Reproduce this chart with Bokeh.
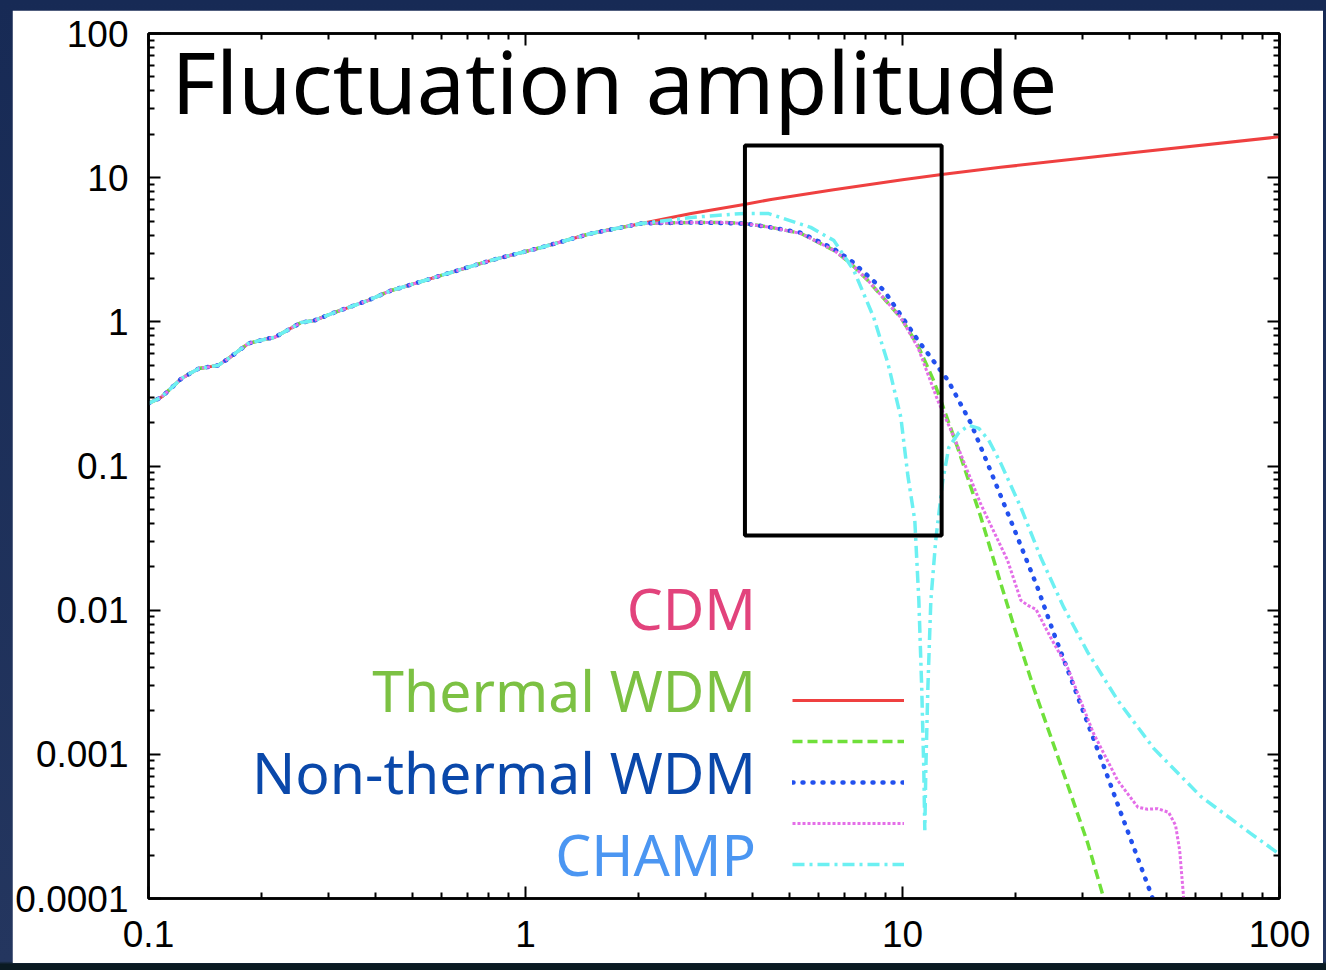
from bokeh.plotting import figure
from bokeh.models import (LogAxis, FixedTicker, CustomJSTickFormatter, Label,
                          BoxAnnotation, Legend, LegendItem)
from bokeh.layouts import column
from bokeh.embed import file_html
from bokeh.resources import INLINE

# ---------------- data ----------------
# wavenumber k (x) and fluctuation amplitude (y); low-k part identical for all models
k_shared = [0.100, 0.108, 0.1224, 0.136, 0.153, 0.163, 0.184, 0.208, 0.216, 0.254,
            0.275, 0.311, 0.383, 0.44, 0.469, 0.598, 0.81, 1.10, 1.49, 2.03]
p_shared = [0.272, 0.299, 0.405, 0.475, 0.499, 0.557, 0.708, 0.767, 0.78, 0.99,
            1.02, 1.16, 1.41, 1.65, 1.73, 2.10, 2.67, 3.28, 4.10, 4.81]

k_cdm = [2.75, 3.80, 4.48, 6.5, 10.0, 12.7, 18.2, 40.0, 100.0]
p_cdm = [5.65, 6.52, 7.06, 8.22, 9.68, 10.52, 11.8, 14.83, 19.2]

k_twdm = [2.75, 3.37, 3.80, 4.48, 5.38, 6.58, 7.29, 8.09, 9.90, 11.0, 12.1, 14.0, 16.1,
          18.2, 19.7, 22.3, 26.3, 31.0, 34.2]
p_twdm = [4.89, 4.89, 4.81, 4.52, 4.10, 3.13, 2.54, 1.94, 1.07, 0.68, 0.39, 0.1346, 0.045,
          0.0155, 0.0079, 0.00287, 0.00084, 0.000242, 0.0001]

k_ntwdm = [2.75, 3.80, 4.48, 5.38, 6.58, 7.29, 8.93, 11.0, 13.2, 15.2, 17.1, 19.7,
           22.8, 25.2, 27.9, 31.0, 34.2, 37.9, 42.1, 46.1]
p_ntwdm = [4.89, 4.81, 4.52, 4.15, 3.2, 2.67, 1.65, 0.743, 0.393, 0.197, 0.0933, 0.0375,
           0.0144, 0.0069, 0.00342, 0.00164, 0.000826, 0.000396, 0.00019, 0.0001]

k_mix = [2.75, 3.37, 3.80, 4.48, 5.38, 6.58, 7.29, 8.09, 9.90, 11.0, 12.4, 13.7, 16.1, 19.0,
         20.6, 21.5, 22.6, 24.7, 27.4, 32.1, 37.2, 42.1, 44.7, 47.5, 50.8, 53.0, 54.35, 55.7]
p_mix = [4.89, 4.89, 4.81, 4.52, 4.10, 3.13, 2.54, 1.94, 1.07, 0.66, 0.285, 0.158, 0.055, 0.0221,
         0.0117, 0.0108, 0.01014, 0.00648, 0.0040, 0.0014, 0.00066, 0.00043, 0.000416,
         0.00042, 0.000396, 0.000322, 0.000216, 0.0001]

k_champ = [2.75, 3.80, 4.40, 5.71, 6.58, 7.43, 8.39, 9.15, 9.90, 10.33, 10.78, 11.05,
           11.25, 11.39, 11.46, 11.53, 11.67, 11.89, 12.25, 12.79, 13.27, 14.11, 15.00,
           15.94, 16.94, 18.23, 20.60, 23.27, 26.78, 31.0, 37.23, 46.38, 61.8,
           83.8, 100.0]
p_champ = [5.3, 5.65, 5.65, 4.52, 3.66, 2.27, 1.07, 0.5145, 0.2173, 0.0861, 0.0419, 0.0117,
           0.00278, 0.000775, 0.000297, 0.000775, 0.00278, 0.0117, 0.0305, 0.0795, 0.1346,
           0.171, 0.1912, 0.1824, 0.1507, 0.1043, 0.0516, 0.0232, 0.01045, 0.0051,
           0.00237, 0.0011, 0.000511, 0.000283, 0.000203]

# highlighted window (k range, amplitude range)
box_k = [3.82, 12.7]
box_p = [0.033, 16.7]

k_ticks = [0.1, 1.0, 10.0, 100.0]
k_tick_labels = ["0.1", "1", "10", "100"]
p_ticks = [1e-4, 1e-3, 1e-2, 1e-1, 1.0, 10.0, 100.0]
p_tick_labels = ["0.0001", "0.001", "0.01", "0.1", "1", "10", "100"]

legend_names = ["CDM", "Thermal WDM", "Non-thermal WDM", "CHAMP"]
legend_colors = ["#e2437c", "#7cc143", "#0a48aa", "#4b96f2"]

# ---------------- figure ----------------
p = figure(width=1311, height=953, x_axis_type="log", y_axis_type="log",
           x_range=(0.1, 100), y_range=(1e-4, 100),
           output_backend="svg", toolbar_location=None,
           min_border_left=135, min_border_right=44,
           min_border_top=23, min_border_bottom=65,
           background_fill_color="white", border_fill_color="white")
p.margin = (10, 3, 7, 12)
p.grid.visible = False
p.outline_line_color = "black"
p.outline_line_width = 2.5

def minor_of(ticks):
    out = []
    for t in ticks[:-1]:
        out += [t * m for m in range(2, 10)]
    return out

x_ticker = FixedTicker(ticks=k_ticks, minor_ticks=minor_of(k_ticks))
y_ticker = FixedTicker(ticks=p_ticks, minor_ticks=minor_of(p_ticks))

fmt_code = """
for (let i = 0; i < tv.length; i++) {
  if (Math.abs(Math.log10(tick) - Math.log10(tv[i])) < 1e-6) { return tl[i]; }
}
return "";
"""
x_fmt = CustomJSTickFormatter(args=dict(tv=k_ticks, tl=k_tick_labels), code=fmt_code)
y_fmt = CustomJSTickFormatter(args=dict(tv=p_ticks, tl=p_tick_labels), code=fmt_code)
blank_fmt = CustomJSTickFormatter(code="return '';")

def style_axis(ax, ticker, fmt, standoff):
    ax.ticker = ticker
    ax.formatter = fmt
    ax.axis_line_color = "black"
    ax.axis_line_width = 2.5
    ax.major_tick_line_color = "black"
    ax.major_tick_line_width = 2
    ax.minor_tick_line_color = "black"
    ax.minor_tick_line_width = 2
    ax.major_tick_in = 12
    ax.major_tick_out = 0
    ax.minor_tick_in = 6
    ax.minor_tick_out = 0
    ax.major_label_standoff = standoff
    ax.major_label_text_font = "Liberation Sans"
    ax.major_label_text_font_size = "37px"
    ax.major_label_text_color = "black"

style_axis(p.xaxis[0], x_ticker, x_fmt, 22)
style_axis(p.yaxis[0], y_ticker, y_fmt, 20)
top_ax = LogAxis()
right_ax = LogAxis()
style_axis(top_ax, x_ticker, blank_fmt, 0)
style_axis(right_ax, y_ticker, blank_fmt, 0)
top_ax.major_label_text_font_size = "1px"
right_ax.major_label_text_font_size = "1px"
p.add_layout(top_ax, "above")
p.add_layout(right_ax, "right")

# ---------------- curves ----------------
r_cdm = p.line(k_shared + k_cdm, p_shared + p_cdm, line_color="#ef4040", line_width=3)
r_twdm = p.line(k_shared + k_twdm, p_shared + p_twdm, line_color="#6fe03a", line_width=3.5,
                line_dash="10 5")
r_ntwdm = p.line(k_shared + k_ntwdm, p_shared + p_ntwdm, line_color="#2250ee", line_width=4.5,
                 line_dash="1 9", line_cap="round")
r_mix = p.line(k_shared + k_mix, p_shared + p_mix, line_color="#e46ee8", line_width=3,
               line_dash="3 2")
r_champ = p.line(k_shared + k_champ, p_shared + p_champ, line_color="#6cf0f2", line_width=3.5,
                 line_dash="12 5 3 5")

p.add_layout(BoxAnnotation(left=box_k[0], right=box_k[1], bottom=box_p[0], top=box_p[1],
                           fill_alpha=0, line_color="black", line_alpha=1.0, line_width=4))

legend = Legend(items=[LegendItem(label=" ", renderers=[r]) for r in
                       [r_cdm, r_twdm, r_ntwdm, r_mix, r_champ]],
                location=(644, 24), orientation="vertical",
                glyph_width=112, glyph_height=20, label_height=20, label_width=0,
                label_standoff=0, spacing=21, padding=0, margin=0,
                label_text_font_size="1px",
                border_line_alpha=0, background_fill_alpha=0)
p.add_layout(legend)

# ---------------- texts ----------------
p.add_layout(Label(x=0.1150, y=47.2, text="Fluctuation amplitude", text_font="Noto Sans",
                   text_font_size="86px", text_color="black", text_baseline="alphabetic",
                   text_align="left"))
legend_base_y = [0.01029, 0.002777, 0.000750, 0.0002027]
for name, col, yb in zip(legend_names, legend_colors, legend_base_y):
    p.add_layout(Label(x=4.088, y=yb, text=name, text_font="Noto Sans",
                       text_font_size="57px", text_color=col, text_baseline="alphabetic",
                       text_align="right"))

root = column(p, styles={"background": "linear-gradient(to bottom, #172a55 0%, #24365f 99.1%, #0a1a22 99.4%)"})

open("out.html", "w").write(file_html(root, INLINE))
